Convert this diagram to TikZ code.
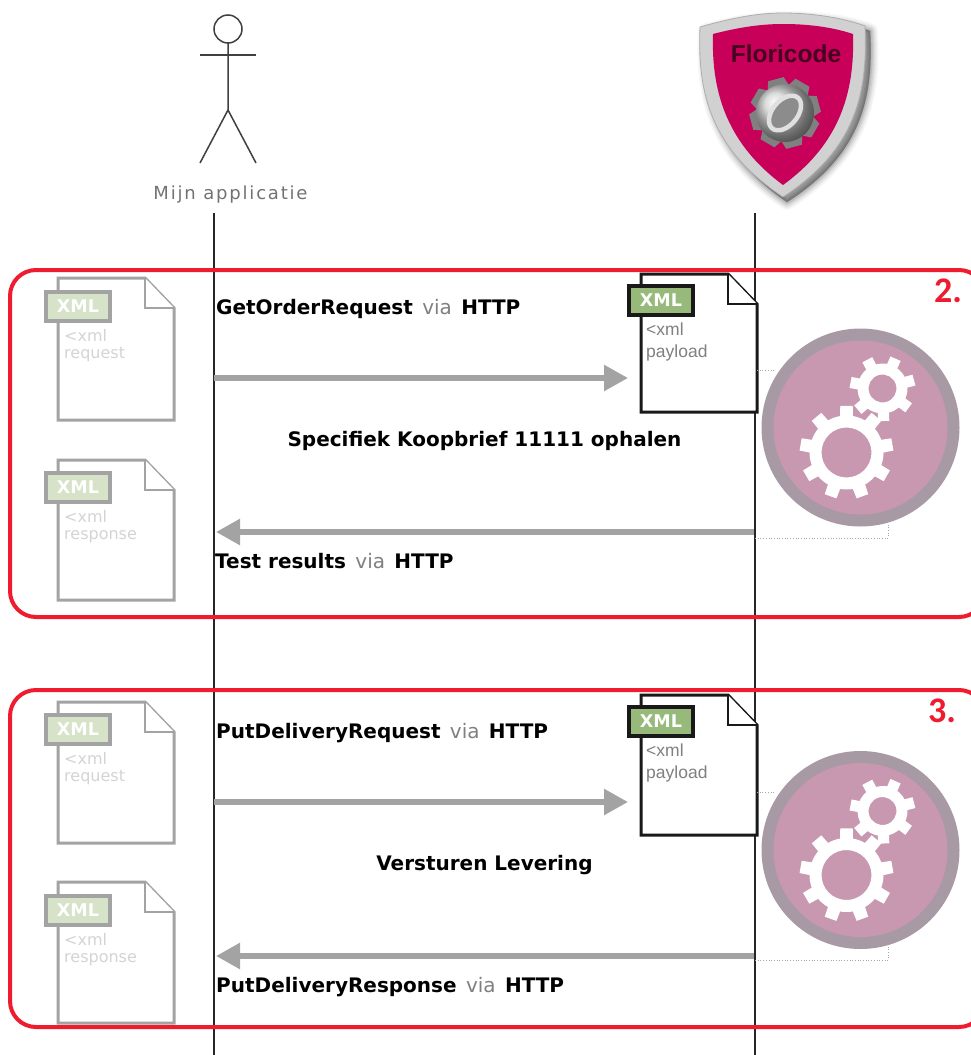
\documentclass[tikz,border=0pt]{standalone}
\usepackage{fontspec}
\setmainfont{DejaVu Sans}
\newfontfamily\lib{Liberation Sans}
\newfontfamily\carl{Carlito}
\newfontfamily\spaced[LetterSpace=10]{DejaVu Sans}
\usetikzlibrary{arrows.meta,shapes.geometric}
\definecolor{redframe}{HTML}{EE1C2E}
\definecolor{arrowgray}{HTML}{A3A3A3}
\definecolor{ringgray}{HTML}{A89AA4}
\definecolor{disc}{HTML}{C897B0}
\definecolor{crimson}{HTML}{C8005A}
\definecolor{okgreen}{HTML}{97B97A}
\definecolor{palegreen}{HTML}{D6E3C8}
\tikzset{
  x=1pt,y=-1pt,
  frame/.style={draw=redframe,line width=4pt,rounded corners=26pt,rectangle,anchor=north west,inner sep=0pt,outer sep=0pt},
  lifeline/.style={draw=black!85,line width=1.3pt},
  flow/.style={draw=arrowgray,line width=5.5pt,-{Triangle[length=24pt,width=25pt]}},
  msg/.style={anchor=west,inner sep=0pt,text height=15pt,text depth=4pt,font=\fontsize{20}{22}\selectfont,text=black},
  msgb/.style={anchor=center,inner sep=0pt,text height=15pt,text depth=4pt,font=\fontsize{20}{22}\bfseries\selectfont,text=black},
  hint/.style={draw=black!35,line width=.7pt,dotted},
  solid doc/.style={draw=black!90,line width=3pt,fill=white},
  faded doc/.style={draw=arrowgray,line width=3pt,fill=white},
  solid badge/.style={draw=black!90,line width=4pt,fill=okgreen,minimum width=64pt,minimum height=29pt,inner sep=0pt,outer sep=0pt,anchor=north west,text=white,font=\fontsize{17.5}{18}\bfseries\selectfont},
  faded badge/.style={draw=arrowgray,line width=4pt,fill=palegreen,minimum width=64pt,minimum height=29pt,inner sep=0pt,outer sep=0pt,anchor=north west,text=white,font=\fontsize{17.5}{18}\bfseries\selectfont},
  solid txt/.style={anchor=west,inner sep=0pt,text height=12pt,text depth=4pt,text=black!50,font=\lib\fontsize{17.5}{19}\selectfont},
  faded txt/.style={anchor=west,inner sep=0pt,text height=11pt,text depth=3pt,text=black!17,font=\fontsize{16}{18}\selectfont},
  num/.style={inner sep=0pt,text=redframe,font=\carl\fontsize{36}{38}\bfseries\selectfont},
}
\newcommand{\gapsolid}{22}
\newcommand{\gapfaded}{17}
\newcommand{\via}[2]{\textbf{#1}\hspace{3pt} \textcolor{black!50}{via}\hspace{3pt} \textbf{#2}}
% name, x, y, height, kind, line1, line2, badge dy, text dx
\newcommand{\xmldoc}[9]{%
  \begin{scope}[shift={(#2,#3)}]
    \path[#5 doc] (0,0) -- (87,0) -- (116,30) -- (116,#4) -- (0,#4) -- cycle;
    \path[#5 doc,line width=2pt] (87,0) -- (87,30) -- (116,30);
    \node[#5 badge] (#1b) at (-12,{#8+1.5}) {XML};
    \node[#5 txt] (#1l) at (#9,{#8+47}) {#6};
    \node[#5 txt] (#1m) at (#9,{#8+47+\csname gap#5\endcsname}) {#7};
  \end{scope}}
% x, y, tip, body, hole, teeth, rot
\newcommand{\mygear}[7]{%
  \begin{scope}[shift={(#1,#2)},rotate=#7]
    \pgfmathsetmacro{\stepang}{360/#6}
    \pgfmathsetmacro{\tw}{\stepang*0.26}
    \pgfmathsetmacro{\tt}{\stepang*0.19}
    \foreach \i in {1,...,#6}{
      \pgfmathsetmacro{\a}{\i*\stepang}
      \fill[white] ({\a-\tw}:#4-1) -- ({\a-\tt}:#3) -- ({\a+\tt}:#3) -- ({\a+\tw}:#4-1) -- cycle;
    }
    \fill[white,even odd rule] (0,0) circle (#4) (0,0) circle (#5);
  \end{scope}}
% x, y
\newcommand{\procdisc}[2]{%
  \fill[ringgray] (#1,#2) circle (99);
  \fill[disc] (#1,#2) circle (87);
  \mygear{#1-14}{#2+25}{47}{37}{25}{9}{10}
  \mygear{#1+22}{#2-39}{33}{25}{14}{7}{15}}
\begin{document}
\begin{tikzpicture}
\useasboundingbox (0,0) rectangle (971,1055);
\clip (0,0) rectangle (971,1055);
\fill[white] (0,0) rectangle (971,1055);

% lifelines
\coordinate (la) at (214,213); \coordinate (lae) at (214,1055);
\coordinate (lb) at (755,213); \coordinate (lbe) at (755,1055);
\draw[lifeline] (la) -- (lae);
\draw[lifeline] (lb) -- (lbe);

% actor
\begin{scope}[draw=black!75,line width=1.5pt]
  \draw (228,29) circle (14);
  \draw (228,43) -- (228,110) -- (200,163);
  \draw (228,110) -- (256,163);
  \draw (200,55) -- (256,55);
\end{scope}
\node[inner sep=0pt,text=black!55,font=\spaced\fontsize{18}{20}\selectfont] (actor) at (230.5,194.5) {Mijn applicatie};

% shield
\foreach \k/\o in {16/.03,13/.04,10/.05,7/.07,4/.09,1/.11}{
  \fill[black,opacity=\o,line join=round,draw=black,line width=\k pt]
    (706,31) .. controls (740,22) and (765,19) .. (788,19) .. controls (815,19) and (845,22) .. (870,31)
    .. controls (874,100) and (860,155) .. (787,202) .. controls (718,155) and (702,100) .. (706,31) -- cycle;
}
\path[fill=black!18,draw=black!32,line width=.8pt]
  (700,27) .. controls (735,17) and (760,13) .. (783,13) .. controls (810,13) and (840,17) .. (865,26)
  .. controls (868,95) and (855,150) .. (783,197) .. controls (712,150) and (697,95) .. (700,27) -- cycle;
\path[fill=crimson]
  (713,34) .. controls (740,27) and (762,24) .. (783,24) .. controls (808,24) and (832,27) .. (853,34)
  .. controls (855,95) and (838,145) .. (783,185) .. controls (729,145) and (711,95) .. (713,34) -- cycle;
\node[inner sep=0pt,text=crimson!35!black,font=\lib\fontsize{24.5}{26}\bfseries\selectfont] (brand) at (786,54) {Floricode};
\begin{scope}[shift={(785,113)}]
  \foreach \a in {0,45,...,315}{
    \fill[black!50,rotate=\a+15] (-11,-26) -- (-8,-35) -- (8,-35) -- (11,-26) -- cycle;
  }
  \shade[ball color=black!18] (0,0) circle (29);
  \fill[rotate=-40,black!45] (0,0) ellipse (11 and 18);
  \draw[rotate=-40,black!12,line width=4.5pt] (0,0) ellipse (12.5 and 20);
\end{scope}

% block 2
\node[frame,minimum width=975pt,minimum height=347pt] (box2) at (10,270) {};
\node[num] (n2) at (948,291) {2.};
\xmldoc{d2a}{58}{278}{142}{faded}{<xml}{request}{12}{6}
\xmldoc{d2b}{58}{460}{140}{faded}{<xml}{response}{11}{6}
\xmldoc{d2c}{641}{274}{138}{solid}{<xml}{payload}{10}{5}
\coordinate (h2a) at (757,370); \coordinate (h2ae) at (775,370);
\draw[hint] (h2a) -- (h2ae);
\coordinate (h2b) at (755,538); \coordinate (h2c) at (888,538); \coordinate (h2d) at (888,524);
\draw[hint] (h2b) -- (h2c) -- (h2d);
\procdisc{860.5}{427.5}
\node[msg] (m2a) at (216,309) {\via{GetOrderRequest}{HTTP}};
\coordinate (f2a) at (214,378); \coordinate (f2b) at (628,378);
\draw[flow] (f2a) -- (f2b);
\node[msgb] (m2b) at (484.5,440.5) {Specifiek Koopbrief 11111 ophalen};
\coordinate (f2c) at (754,532); \coordinate (f2d) at (216,532);
\draw[flow] (f2c) -- (f2d);
\node[msg] (m2c) at (215,563) {\via{Test results}{HTTP}};

% block 3
\node[frame,minimum width=975pt,minimum height=337pt] (box3) at (10,690) {};
\node[num] (n3) at (942,711) {3.};
\xmldoc{d3a}{58}{702}{141}{faded}{<xml}{request}{11}{6}
\xmldoc{d3b}{58}{882}{141}{faded}{<xml}{response}{12}{6}
\xmldoc{d3c}{641}{695}{140}{solid}{<xml}{payload}{10}{5}
\coordinate (h3a) at (757,792); \coordinate (h3ae) at (775,792);
\draw[hint] (h3a) -- (h3ae);
\coordinate (h3b) at (755,960); \coordinate (h3c) at (888,960); \coordinate (h3d) at (888,946);
\draw[hint] (h3b) -- (h3c) -- (h3d);
\procdisc{860.5}{850}
\node[msg] (m3a) at (216,733) {\via{PutDeliveryRequest}{HTTP}};
\coordinate (f3a) at (214,802); \coordinate (f3b) at (628,802);
\draw[flow] (f3a) -- (f3b);
\node[msgb] (m3b) at (484.5,864.5) {Versturen Levering};
\coordinate (f3c) at (754,956); \coordinate (f3d) at (216,956);
\draw[flow] (f3c) -- (f3d);
\node[msg] (m3c) at (216,987) {\via{PutDeliveryResponse}{HTTP}};
\end{tikzpicture}
\end{document}
